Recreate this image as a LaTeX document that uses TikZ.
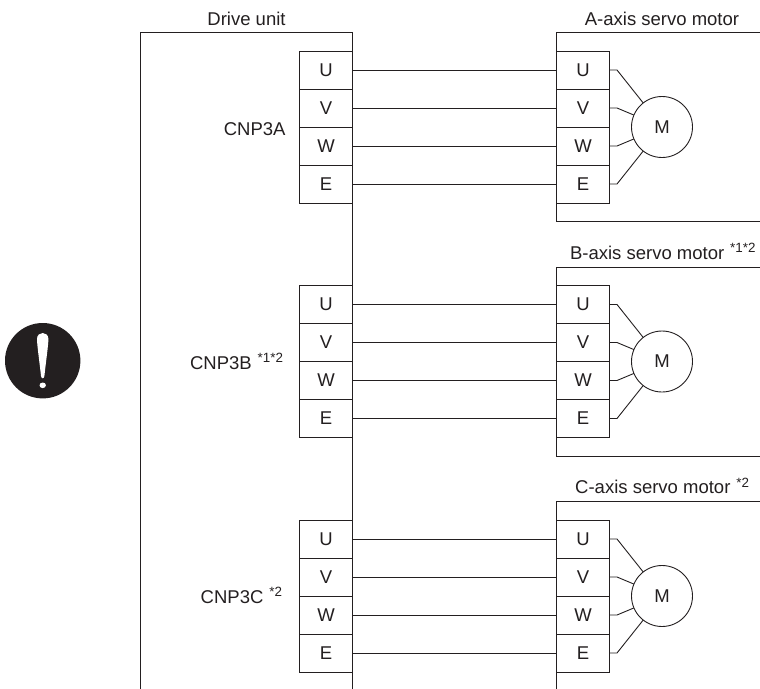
\documentclass[tikz,border=0pt]{standalone}
\usepackage{fontspec}
\setmainfont{Liberation Sans}
\definecolor{ink}{HTML}{231F20}
\tikzset{
  x=1pt,y=-1pt,
  every node/.style={text=ink,font=\fontsize{18.5}{21}\selectfont,inner sep=0pt},
  term/.style={draw=ink,minimum width=53pt,minimum height=38pt,outer sep=0pt},
  motor/.style={draw=ink,circle,minimum size=61pt,outer sep=0pt},
  lbl/.style={anchor=base east},
  ttl/.style={anchor=base},
}
\newcommand{\Sup}[1]{\hspace{0.8pt}\raisebox{6.5pt}{\fontsize{13.4}{15}\selectfont #1}}
\newcommand{\Block}[2]{%
  \begin{scope}[yshift=-#2pt]
    \foreach \n/\t/\yy in {u/U/70,v/V/108,w/W/146,e/E/184}{
      \node[term] (d#1\n) at (326,\yy) {\t};
      \node[term] (m#1\n) at (583,\yy) {\t};
      \coordinate (s#1\n) at (617,\yy);
      \draw (d#1\n.east) -- (m#1\n.west);
    }
    \node[motor] (m#1) at (662,127) {M};
    \draw (m#1u.east) -- (s#1u) -- (m#1.128);
    \draw (m#1v.east) -- (s#1v) -- (m#1.157);
    \draw (m#1w.east) -- (s#1w) -- (m#1.203);
    \draw (m#1e.east) -- (s#1e) -- (m#1.232);
  \end{scope}}
\begin{document}
\begin{tikzpicture}[line width=0.9pt,draw=ink]
\useasboundingbox (0,0) rectangle (760,688);
\begin{scope}
\clip (0,0) rectangle (760,688);
\coordinate (dtl) at (140.5,32.5);
\coordinate (dtr) at (352.5,32.5);
\coordinate (dbl) at (140.5,690);
\coordinate (dbr) at (352.5,690);
\draw (dbl) -- (dtl) -- (dtr) -- (dbr);
\draw (762,32.5) -- (556.5,32.5) -- (556.5,221) -- (762,221);
\draw (762,267) -- (556.5,267) -- (556.5,456) -- (762,456);
\draw (762,501) -- (556.5,501) -- (556.5,690);
\end{scope}
\Block{a}{0}
\Block{b}{234.5}
\Block{c}{469}
\node[ttl] (tdrive) at (246.5,25) {Drive unit};
\node[ttl] (tam) at (662,25) {A-axis servo motor};
\node[lbl] (tbm) at (756,259) {B-axis servo motor \Sup{*1*2}};
\node[lbl] (tcm) at (749.5,493.5) {C-axis servo motor \Sup{*2}};
\node[lbl] (ca) at (286,135) {CNP3A};
\node[lbl] (cb) at (283.5,369) {CNP3B \Sup{*1*2}};
\node[lbl] (cc) at (282.5,603) {CNP3C \Sup{*2}};
% caution icon
\fill[ink] (42.7,360.7) circle (37.7);
\fill[white] (37,339) .. controls (37,331) and (48.4,331) .. (48.4,339)
  .. controls (48.4,345) and (45.5,365) .. (44.4,376)
  .. controls (44,379) and (41.4,379) .. (41,376)
  .. controls (39.9,365) and (37,345) .. (37,339) -- cycle;
\fill[white] (42.7,385.3) ellipse (3.2 and 2.8);
\end{tikzpicture}
\end{document}
